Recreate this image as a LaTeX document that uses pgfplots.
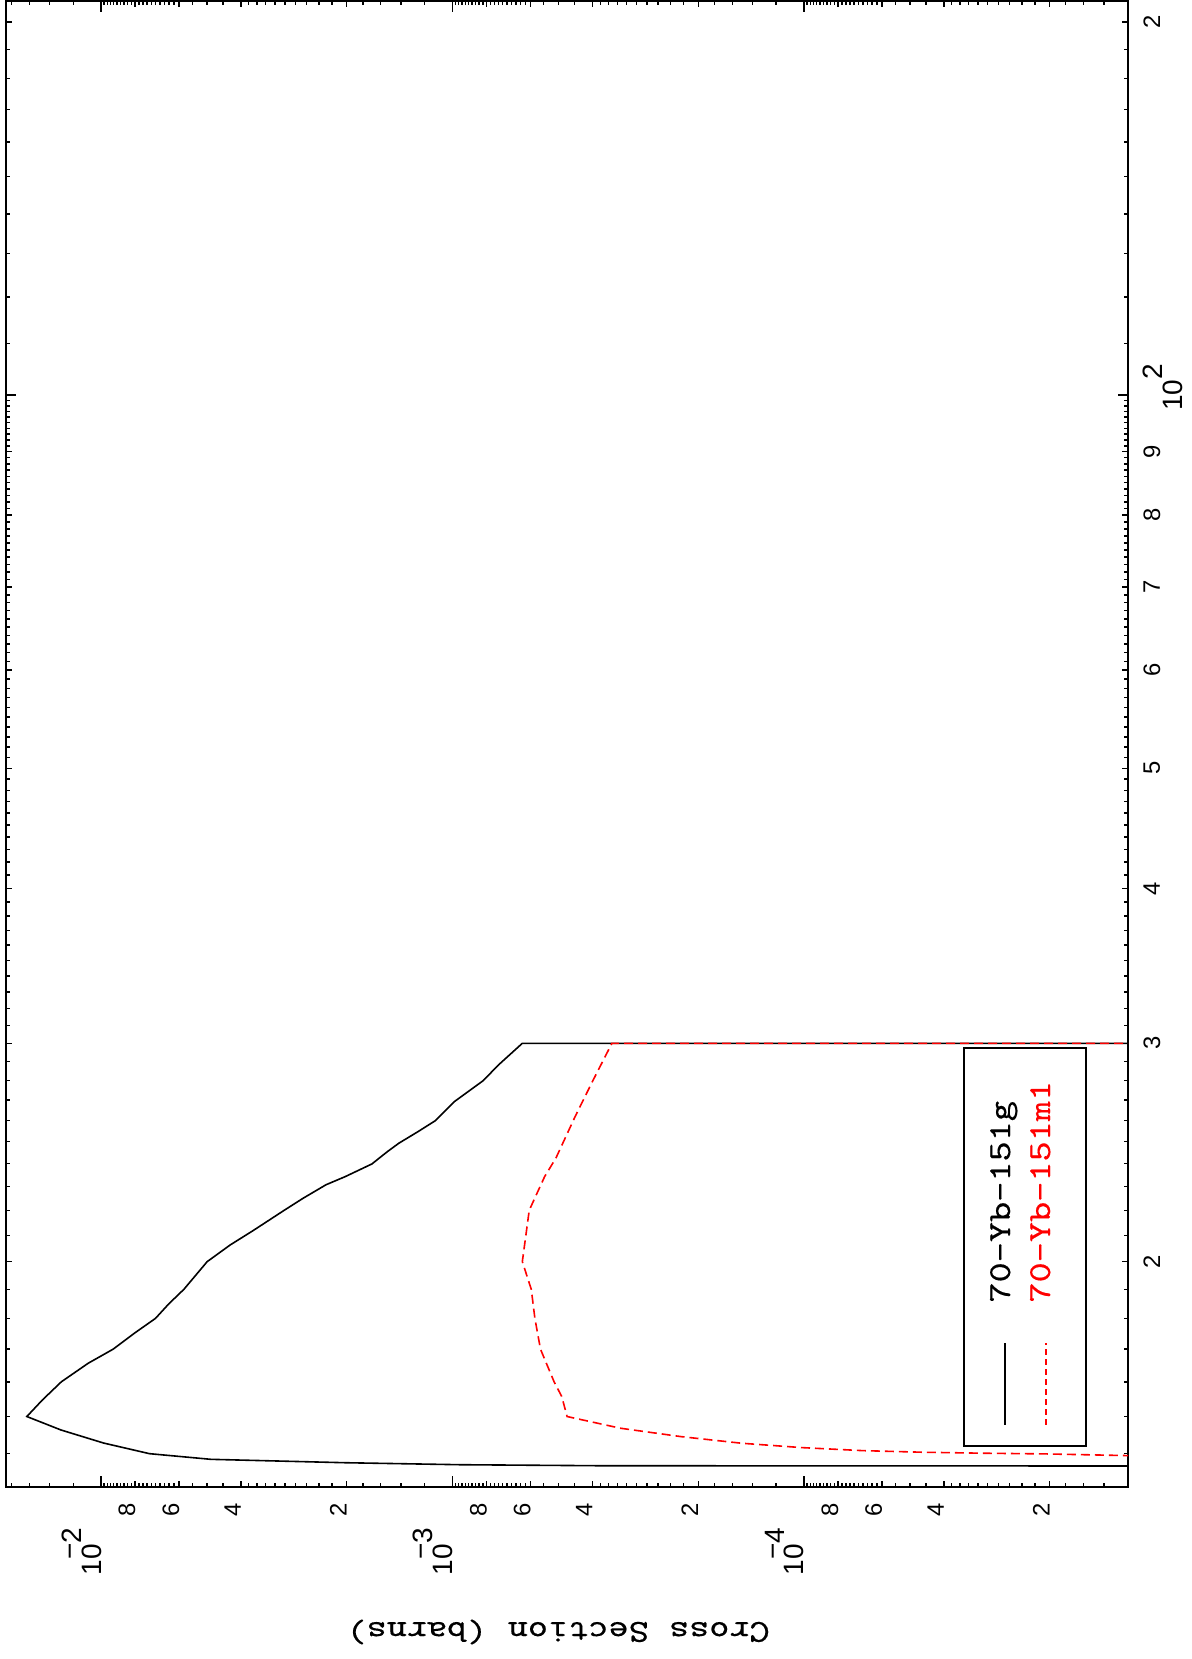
\documentclass[border=0pt]{standalone}
\usepackage{fontspec}
\setmainfont{Liberation Sans}
\newfontfamily\courfont{lmmono10-regular.otf}[FakeBold=0.35]
\usepackage{graphicx}
\usepackage{pgfplots}
\pgfplotsset{compat=1.18}
\newcommand\cour[1]{{\courfont\fontsize{16}{17}\selectfont\scalebox{1.2}[1]{#1}}}
\newcommand\declabel[1]{{\fontsize{14}{14}\selectfont 1\rlap{0}\makebox[0.556em]{\raisebox{0.77em}{−}}\raisebox{0.71em}{#1}}\kern12.5pt}
\begin{document}
\begin{tikzpicture}
\path[use as bounding box] (-3pt,-86pt) rectangle (593pt,743.5pt);
\begin{axis}[
  at={(0pt,0pt)}, anchor=south west,
  scale only axis, width=561pt, height=743pt,
  xmode=log, ymode=log, x dir=reverse,
  xmin=1.197e-5, xmax=1.864e-2,
  ymin=13.16, ymax=207.9,
  axis line style={line width=1pt},
  tick align=inside,
  every tick/.style={black, line width=0.7pt},
  major tick length=3.2pt, minor tick length=2.1pt,
  xtick={2e-5,4e-5,6e-5,8e-5,2e-4,4e-4,6e-4,8e-4,2e-3,4e-3,6e-3,8e-3},
  xticklabels={2,4,6,8,2,4,6,8,2,4,6,8},
  minor xtick={1.2e-5,1.4e-5,1.6e-5,1.8e-5,2.2e-5,2.4e-5,2.6e-5,2.8e-5,3e-5,3.2e-5,3.4e-5,3.6e-5,3.8e-5,4.5e-5,5e-5,5.5e-5,6.2e-5,6.4e-5,6.6e-5,6.8e-5,7e-5,7.2e-5,7.4e-5,7.6e-5,7.8e-5,8.2e-5,8.4e-5,8.6e-5,8.8e-5,9e-5,9.2e-5,9.4e-5,9.6e-5,9.8e-5,
    1.2e-4,1.4e-4,1.6e-4,1.8e-4,2.2e-4,2.4e-4,2.6e-4,2.8e-4,3e-4,3.2e-4,3.4e-4,3.6e-4,3.8e-4,4.5e-4,5e-4,5.5e-4,6.2e-4,6.4e-4,6.6e-4,6.8e-4,7e-4,7.2e-4,7.4e-4,7.6e-4,7.8e-4,8.2e-4,8.4e-4,8.6e-4,8.8e-4,9e-4,9.2e-4,9.4e-4,9.6e-4,9.8e-4,
    1.2e-3,1.4e-3,1.6e-3,1.8e-3,2.2e-3,2.4e-3,2.6e-3,2.8e-3,3e-3,3.2e-3,3.4e-3,3.6e-3,3.8e-3,4.5e-3,5e-3,5.5e-3,6.2e-3,6.4e-3,6.6e-3,6.8e-3,7e-3,7.2e-3,7.4e-3,7.6e-3,7.8e-3,8.2e-3,8.4e-3,8.6e-3,8.8e-3,9e-3,9.2e-3,9.4e-3,9.6e-3,9.8e-3,
    1.2e-2,1.4e-2,1.6e-2,1.8e-2},
  extra x ticks={1e-4,1e-3,1e-2},
  extra x tick labels={\declabel{4},\declabel{3},\declabel{2}},
  extra x tick style={major tick length=5.5pt},
  xticklabel style={rotate=90, anchor=base east, inner sep=0pt, font=\fontsize{11.9}{12}\selectfont},
  xticklabel shift=8pt,
  ytick={20,30,40,50,60,70,80,90,200},
  yticklabels={2,3,4,5,6,7,8,9,2},
  minor ytick={14,15,16,17,18,19,21,22,23,24,25,26,27,28,29,31,32,33,34,35,36,37,38,39,41,42,43,44,45,46,47,48,49,51,52,53,54,55,56,57,58,59,61,62,63,64,65,66,67,68,69,71,72,73,74,75,76,77,78,79,81,82,83,84,85,86,87,88,89,91,92,93,94,95,96,97,98,99,110,120,130,140,150,160,170,180,190},
  extra y ticks={100},
  extra y tick labels={{\fontsize{14}{14}\selectfont 10\rlap{\raisebox{0.71em}{2}}}},
  extra y tick style={major tick length=5pt},
  yticklabel pos=right,
  yticklabel style={rotate=90, anchor=north, inner sep=0pt, font=\fontsize{11.9}{12}\selectfont},
  yticklabel shift=7.5pt,
]
\addplot[black, line width=0.8pt] coordinates {
(1e-8,13.67) (3.78e-4,13.69) (9.52e-4,13.716) (2.02e-3,13.767) (4.87e-3,13.854)
(7.28e-3,14.0) (9.84e-3,14.28) (1.30e-2,14.63) (1.626e-2,15.0) (1.468e-2,15.47)
(1.297e-2,16.0) (1.088e-2,16.56) (9.24e-3,17.0) (8.04e-3,17.51) (7.0e-3,18.0)
(6.42e-3,18.49) (5.81e-3,19.0) (4.99e-3,20.0) (4.29e-3,20.63) (3.69e-3,21.19)
(3.02e-3,21.99) (2.66e-3,22.5) (2.29e-3,23.07) (2.02e-3,23.42) (1.695e-3,23.98)
(1.533e-3,24.53) (1.421e-3,24.92) (1.254e-3,25.46) (1.12e-3,25.98) (9.88e-4,26.92)
(8.18e-4,27.99) (7.40e-4,28.82) (6.33e-4,30.0) (1e-8,30.0)
};
\addplot[red, line width=0.8pt, dash pattern=on 4.5pt off 2.5pt] coordinates {
(1e-8,13.92) (1.2e-5,13.95) (2.07e-5,13.995) (3.08e-5,14.012) (4.59e-5,14.038)
(6.82e-5,14.08) (1.013e-4,14.159) (1.507e-4,14.275) (2.24e-4,14.451) (3.33e-4,14.678)
(4.72e-4,15.0) (4.89e-4,15.57) (5.14e-4,16.0) (5.62e-4,17.0) (5.83e-4,18.0)
(5.97e-4,19.0) (6.33e-4,20.0) (6.05e-4,22.0) (5.47e-4,23.42) (5.08e-4,24.24)
(4.83e-4,25.0) (4.48e-4,26.18) (4.0e-4,27.94) (3.52e-4,30.0) (1e-8,30.0)
};
\end{axis}
% legend
\draw[line width=1pt, fill=white] (479pt,20.5pt) rectangle (540pt,219.5pt);
\draw[black, line width=0.8pt] (499.5pt,31pt) -- (499.5pt,72pt);
\draw[red, line width=0.8pt, dash pattern=on 3pt off 2pt] (520pt,31pt) -- (520pt,72pt);
\node[rotate=90, anchor=base west, inner sep=0pt] at (502pt,92pt) {\cour{70–Yb–151g}};
\node[rotate=90, anchor=base west, inner sep=0pt, text=red] at (522pt,92pt) {\cour{70–Yb–151m1}};
% axis label
\node[rotate=180, anchor=center, inner sep=0pt] at (276pt,-72.5pt) {\cour{Cross Section (barns)}};
\end{tikzpicture}
\end{document}
